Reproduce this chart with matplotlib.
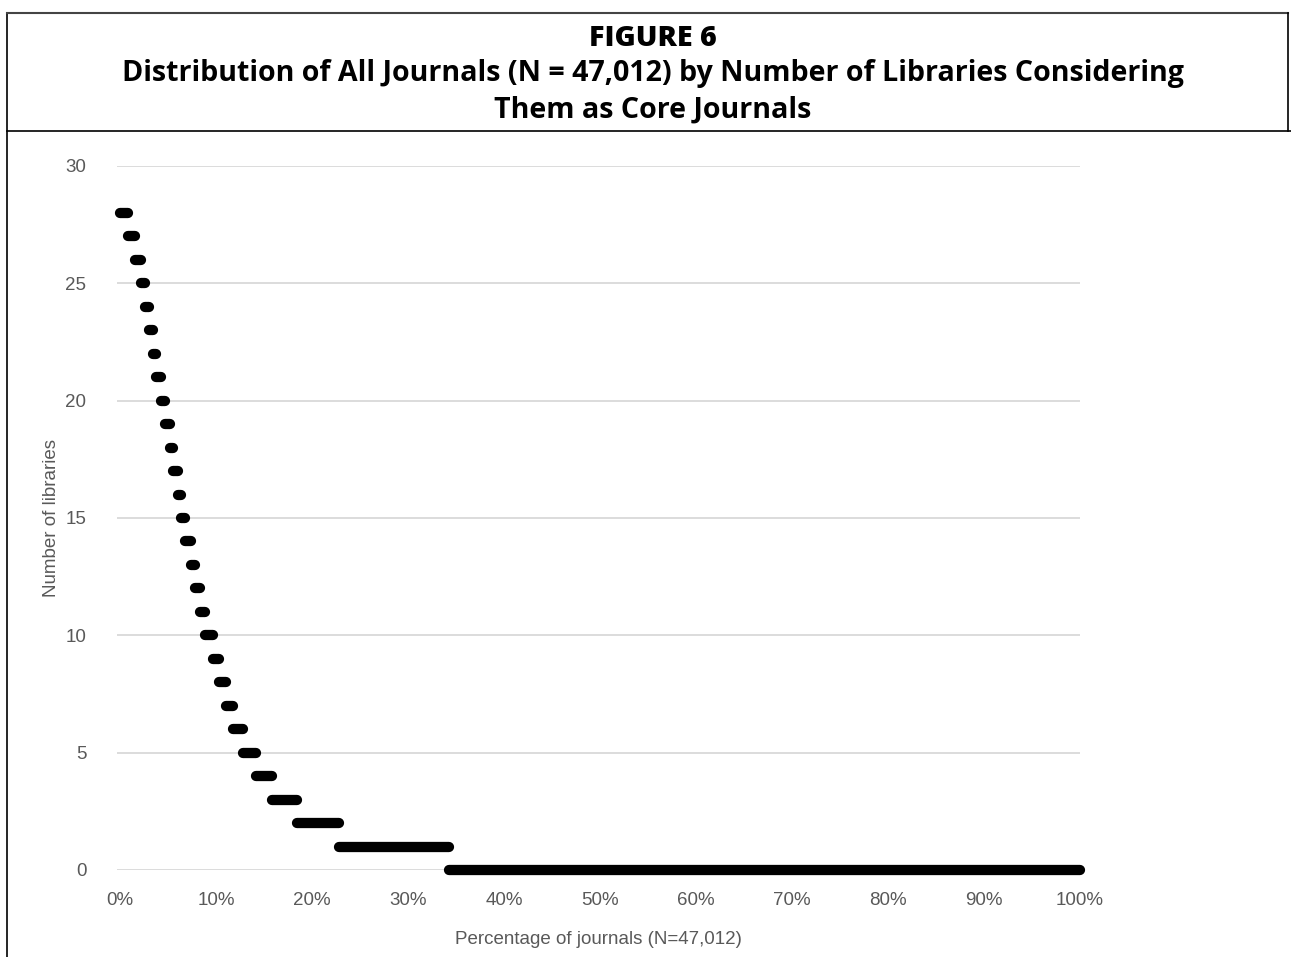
import matplotlib.pyplot as plt
from matplotlib.lines import Line2D

# Number of libraries considering a journal as core, and the share of
# journals (cumulative %, sorted) falling at each level
levels = [28, 27, 26, 25, 24, 23, 22, 21, 20, 19, 18, 17, 16, 15, 14,
          13, 12, 11, 10, 9, 8, 7, 6, 5, 4, 3, 2, 1, 0]
pct_start = [0.0, 0.83, 1.56, 2.14, 2.6, 3.07, 3.39, 3.8, 4.27, 4.69,
             5.16, 5.52, 6.0, 6.4, 6.82, 7.4, 7.86, 8.33, 8.9, 9.64,
             10.36, 11.0, 11.77, 12.8, 14.2, 15.8, 18.4, 22.8, 34.3]
pct_end = pct_start[1:] + [100.0]

y_ticks = [0, 5, 10, 15, 20, 25, 30]
x_ticks = [0, 10, 20, 30, 40, 50, 60, 70, 80, 90, 100]
x_tick_labels = [f"{v}%" for v in x_ticks]

title_lines = ["FIGURE 6",
               "Distribution of All Journals (N = 47,012) by Number of Libraries Considering",
               "Them as Core Journals"]

W, H = 1291, 957
fig = plt.figure(figsize=(W / 100, H / 100), dpi=100)

ax = fig.add_axes([117 / W, (H - 870) / H, (1080 - 117) / W, (870 - 166) / H])

for lvl, s, e in zip(levels, pct_start, pct_end):
    ax.plot([s, e], [lvl, lvl], color="black", lw=7.4,
             solid_capstyle="round", clip_on=False, zorder=3)

ax.set_xlim(-0.31, 100)
ax.set_ylim(0, 30)
ax.set_yticks(y_ticks)
ax.set_xticks(x_ticks)
ax.set_xticklabels(x_tick_labels)
ax.grid(axis="y", color="#d9d9d9", lw=1.3)
ax.grid(axis="x", visible=False)
ax.set_axisbelow(True)
for sp in ax.spines.values():
    sp.set_visible(False)

tick_family = "Liberation Sans"
ax.tick_params(length=0, colors="#595959")
ax.tick_params(axis="y", pad=22)
ax.tick_params(axis="x", pad=16)
for lab in ax.get_xticklabels() + ax.get_yticklabels():
    lab.set_fontfamily(tick_family)
    lab.set_fontsize(13.5)

ax.set_xlabel("Percentage of journals (N=47,012)", color="#595959",
              fontfamily=tick_family, fontsize=13.5, labelpad=16)
ax.set_ylabel("Number of libraries", color="#595959",
              fontfamily=tick_family, fontsize=13.5, labelpad=4)

# title box and border lines
border = dict(color="black", lw=1.2, transform=fig.transFigure)
fig.add_artist(Line2D([7 / W, 7 / W], [0, 1 - 13 / H], **border))
fig.add_artist(Line2D([7 / W, 1288 / W], [1 - 13 / H, 1 - 13 / H], color="#444444", lw=1.5,
                      transform=fig.transFigure))
fig.add_artist(Line2D([1288 / W, 1288 / W], [1 - 131 / H, 1 - 13 / H], **border))
fig.add_artist(Line2D([7 / W, 1], [1 - 131 / H, 1 - 131 / H], **border))

title_y = [38, 73, 110]
for i, (txt, ty) in enumerate(zip(title_lines, title_y)):
    fig.text(653 / W, 1 - ty / H, txt, ha="center", va="center",
             fontfamily="Open Sans", fontweight="heavy" if i == 0 else "bold",
             fontsize=20.6)

fig.savefig("out.png", dpi=100)
